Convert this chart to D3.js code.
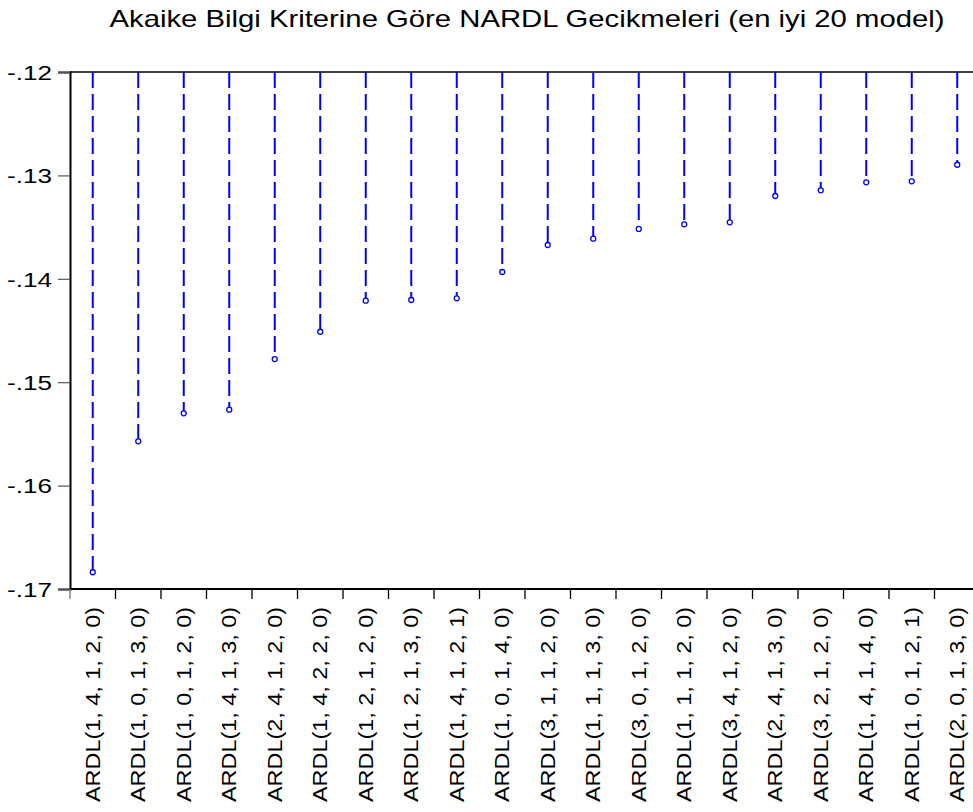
<!DOCTYPE html>
<html>
<head>
<meta charset="utf-8">
<script src="https://cdn.jsdelivr.net/npm/d3@7"></script>
<style>
  body { margin: 0; background: #fff; }
  text { font-family: "Liberation Sans", Arial, sans-serif; fill: #000; }
</style>
</head>
<body>
<div id="chart"></div>
<script>
const title = 'Akaike Bilgi Kriterine Göre NARDL Gecikmeleri (en iyi 20 model)';

const models = [
  'ARDL(1, 4, 1, 2, 0)', 'ARDL(1, 0, 1, 3, 0)', 'ARDL(1, 0, 1, 2, 0)', 'ARDL(1, 4, 1, 3, 0)',
  'ARDL(2, 4, 1, 2, 0)', 'ARDL(1, 4, 2, 2, 0)', 'ARDL(1, 2, 1, 2, 0)', 'ARDL(1, 2, 1, 3, 0)',
  'ARDL(1, 4, 1, 2, 1)', 'ARDL(1, 0, 1, 4, 0)', 'ARDL(3, 1, 1, 2, 0)', 'ARDL(1, 1, 1, 3, 0)',
  'ARDL(3, 0, 1, 2, 0)', 'ARDL(1, 1, 1, 2, 0)', 'ARDL(3, 4, 1, 2, 0)', 'ARDL(2, 4, 1, 3, 0)',
  'ARDL(3, 2, 1, 2, 0)', 'ARDL(1, 4, 1, 4, 0)', 'ARDL(1, 0, 1, 2, 1)', 'ARDL(2, 0, 1, 3, 0)'
];

const aic = [
  -0.16838, -0.15572, -0.15301, -0.15266, -0.14776, -0.14512, -0.14212, -0.14205,
  -0.14189, -0.13934, -0.13673, -0.13612, -0.13518, -0.13473, -0.13454, -0.13199,
  -0.13144, -0.13067, -0.13057, -0.12897
];

const yTicks = [-0.12, -0.13, -0.14, -0.15, -0.16, -0.17];
const yTickLabels = ['-.12', '-.13', '-.14', '-.15', '-.16', '-.17'];

const data = models.map((m, i) => ({ model: m, value: aic[i] }));

const W = 973, H = 812;
const margin = { top: 72, left: 70, right: -7, bottom: 223 };
const innerW = W - margin.left - margin.right;
const innerH = H - margin.top - margin.bottom;

const svg = d3.select('#chart').append('svg')
  .attr('width', W)
  .attr('height', H);

svg.append('text')
  .attr('x', margin.left + innerW / 2 + 2)
  .attr('y', 27)
  .attr('text-anchor', 'middle')
  .attr('font-size', 24)
  .attr('textLength', 835)
  .attr('lengthAdjust', 'spacingAndGlyphs')
  .text(title);

const g = svg.append('g')
  .attr('transform', `translate(${margin.left}, ${margin.top})`);

const x = d3.scaleBand()
  .domain(models)
  .range([0, innerW])
  .padding(0);

const y = d3.scaleLinear()
  .domain([-0.17, -0.12])
  .range([innerH, 0]);

// frame top
g.append('line').attr('x1', 0).attr('x2', innerW).attr('y1', 0).attr('y2', 0)
  .attr('stroke', '#000').attr('stroke-width', 1.5);

// y axis
const yAxis = g.append('g')
  .call(d3.axisLeft(y)
    .tickValues(yTicks)
    .tickSize(12)
    .tickPadding(6)
    .tickFormat((d, i) => yTickLabels[i]));
yAxis.select('.domain').attr('stroke', '#000').attr('stroke-width', 2);
yAxis.selectAll('.tick line').attr('stroke', '#555').attr('stroke-width', 1.2);
yAxis.selectAll('.tick text')
  .attr('font-size', 20)
  .attr('font-family', '"Liberation Sans", Arial, sans-serif')
  .attr('textLength', 45)
  .attr('lengthAdjust', 'spacingAndGlyphs')
  .attr('dy', '0.36em');

// x axis with ticks between categories
g.append('line').attr('x1', 0).attr('x2', innerW).attr('y1', innerH).attr('y2', innerH)
  .attr('stroke', '#000').attr('stroke-width', 2);

g.selectAll('.xtick')
  .data(models)
  .enter().append('line')
  .attr('class', 'xtick')
  .attr('x1', d => x(d)).attr('x2', d => x(d))
  .attr('y1', innerH).attr('y2', innerH + 10)
  .attr('stroke', (d, i) => i === 0 ? '#777' : '#000')
  .attr('stroke-width', 1.3);

g.selectAll('.xlabel')
  .data(models)
  .enter().append('text')
  .attr('class', 'xlabel')
  .attr('transform', d => `translate(${x(d) + x.bandwidth() / 2 + 7}, ${innerH + 18}) rotate(-90)`)
  .attr('text-anchor', 'end')
  .attr('font-size', 20)
  .attr('textLength', 195)
  .attr('lengthAdjust', 'spacingAndGlyphs')
  .text(d => d);

// dashed drop lines from the top
g.selectAll('.drop')
  .data(data)
  .enter().append('line')
  .attr('class', 'drop')
  .attr('x1', d => x(d.model) + x.bandwidth() / 2)
  .attr('x2', d => x(d.model) + x.bandwidth() / 2)
  .attr('y1', y(-0.12))
  .attr('y2', d => y(d.value))
  .attr('stroke', '#0000ff')
  .attr('stroke-width', 2)
  .attr('stroke-dasharray', '16,6');

g.selectAll('.pt')
  .data(data)
  .enter().append('circle')
  .attr('class', 'pt')
  .attr('cx', d => x(d.model) + x.bandwidth() / 2)
  .attr('cy', d => y(d.value))
  .attr('r', 2.5)
  .attr('fill', '#fff')
  .attr('stroke', '#0000ff')
  .attr('stroke-width', 1.3);
</script>
</body>
</html>
